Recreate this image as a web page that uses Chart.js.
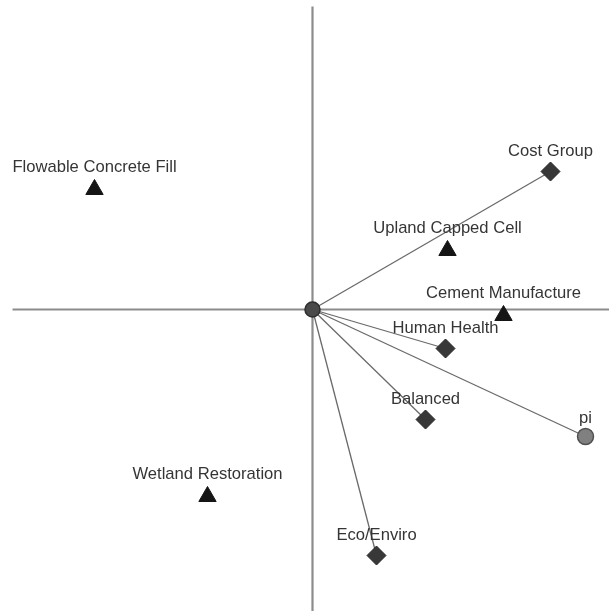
<!DOCTYPE html>
<html><head><meta charset="utf-8">
<script src="https://cdn.jsdelivr.net/npm/chart.js@4.4.0/dist/chart.umd.min.js"></script>
<style>html,body{margin:0;padding:0;background:#fff;overflow:hidden}#wrap{width:609px;height:611px;position:relative}</style>
</head><body><div id="wrap"><canvas id="c"></canvas></div>
<script>
// Alternatives (triangles)
const altNames = ['Flowable Concrete Fill','Upland Capped Cell','Cement Manufacture','Wetland Restoration'];
const altX = [-2.18, 1.35, 1.91, -1.05];
const altY = [1.20, 0.59, -0.06, -1.87];
// Criteria / weight groups (diamonds)
const critNames = ['Cost Group','Human Health','Balanced','Eco/Enviro'];
const critX = [2.38, 1.33, 1.13, 0.64];
const critY = [1.38, -0.39, -1.10, -2.46];
// Decision axis (pi)
const piNames = ['pi'];
const piX = [2.73];
const piY = [-1.27];
// Axis line extents
const hAxisX = [-3.00, 2.97];
const vAxisY = [3.03, -3.02];

const pts = (xs, ys) => xs.map((x, i) => ({x, y: ys[i]}));

const datasets = [];
// markers (drawn on top: lower order)
datasets.push({order: 1, data: pts(piX, piY), pointStyle: 'circle', pointRadius: 8, pointBackgroundColor: '#808080', pointBorderColor: '#505050', pointBorderWidth: 1.5, labelList: piNames, labelOffset: 18});
datasets.push({order: 1, data: pts(critX, critY), pointStyle: 'rectRot', pointRadius: 9.5, pointBackgroundColor: '#383838', pointBorderColor: '#262626', pointBorderWidth: 1, labelList: critNames, labelOffset: 20});
datasets.push({order: 1, data: pts(altX, altY), pointStyle: 'triangle', pointRadius: 10, pointBackgroundColor: '#151515', pointBorderColor: '#151515', pointBorderWidth: 1, labelList: altNames, labelOffset: 22});
datasets.push({order: 1, data: [{x: 0, y: 0}], pointRadius: 7.5, pointBackgroundColor: '#4a4a4a', pointBorderColor: '#2e2e2e', pointBorderWidth: 1.5});
// connection lines
critX.concat(piX).forEach((x, i) => {
  const y = critY.concat(piY)[i];
  datasets.push({order: 2, data: [{x: 0, y: 0}, {x, y}], showLine: true, borderColor: '#6a6a6a', borderWidth: 1.3, pointRadius: 0});
});
// axes
datasets.push({order: 3, data: hAxisX.map(x => ({x, y: 0})), showLine: true, borderColor: '#8c8c8c', borderWidth: 2.2, pointRadius: 0});
datasets.push({order: 3, data: vAxisY.map(y => ({x: 0, y})), showLine: true, borderColor: '#8c8c8c', borderWidth: 2.2, pointRadius: 0});

const labelPlugin = {
  id: 'pointLabels',
  afterDatasetsDraw(chart) {
    const ctx = chart.ctx;
    ctx.save();
    ctx.font = '16.6px "Liberation Sans", Arial, sans-serif';
    ctx.fillStyle = '#353535';
    ctx.textAlign = 'center';
    ctx.textBaseline = 'middle';
    chart.data.datasets.forEach((ds, di) => {
      if (!ds.labelList) return;
      chart.getDatasetMeta(di).data.forEach((el, i) => {
        ctx.fillText(ds.labelList[i], el.x, el.y - ds.labelOffset);
      });
    });
    ctx.restore();
  }
};

new Chart(document.getElementById('c'), {
  type: 'scatter',
  data: {datasets},
  options: {
    responsive: true, maintainAspectRatio: false, animation: false,
    layout: {padding: 0, autoPadding: false},
    plugins: {legend: {display: false}, tooltip: {enabled: false}},
    elements: {line: {tension: 0}},
    scales: {
      x: {type: 'linear', min: -3.125, max: 2.965, display: false},
      y: {type: 'linear', min: -3.015, max: 3.095, display: false}
    }
  },
  plugins: [labelPlugin]
});
</script></body></html>
